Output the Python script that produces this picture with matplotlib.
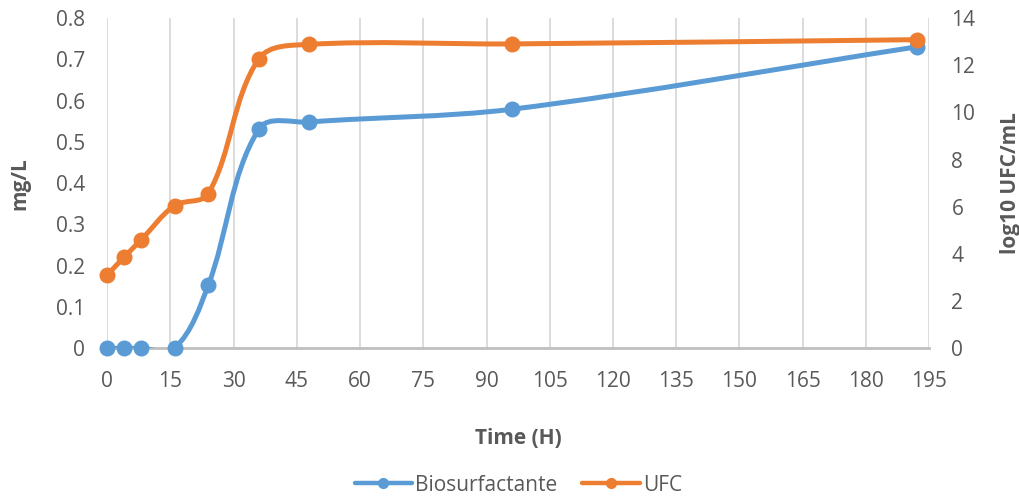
import numpy as np
import matplotlib.pyplot as plt
from matplotlib.path import Path
from matplotlib.patches import PathPatch
from matplotlib.lines import Line2D

plt.rcParams['font.family'] = ['Open Sans', 'DejaVu Sans']

time_h = [0, 4, 8, 16, 24, 36, 48, 96, 192]
biosurf = [0, 0, 0, 0, 0.153, 0.531, 0.548, 0.579, 0.73]
ufc = [3.1, 3.86, 4.58, 6.05, 6.55, 12.27, 12.88, 12.9, 13.08]

blue = '#5B9BD5'
orange = '#ED7D31'
gray_txt = '#595959'
fs = 15

fig = plt.figure(figsize=(10.2, 4.99), dpi=100)
ax = fig.add_axes([0.105, 0.302, 0.806, 0.662])
ax2 = ax.twinx()


def smooth_path(a, x, y):
    # smoothed line like excel: bezier segments, tangents from neighbours,
    # handle length = a third of the segment, worked out in pixel space
    bb = a.get_window_extent()
    x0, x1 = a.get_xlim()
    y0, y1 = a.get_ylim()
    sx = bb.width / (x1 - x0)
    sy = bb.height / (y1 - y0)
    pts = np.column_stack([np.array(x) * sx, np.array(y) * sy]).astype(float)
    n = len(pts)
    tang = []
    for i in range(n):
        t = pts[min(i + 1, n - 1)] - pts[max(i - 1, 0)]
        tang.append(t / np.hypot(*t))
    verts = [pts[0]]
    codes = [Path.MOVETO]
    for i in range(n - 1):
        d = np.hypot(*(pts[i + 1] - pts[i]))
        c1 = pts[i] + tang[i] * d / 3
        c2 = pts[i + 1] - tang[i + 1] * d / 3
        verts += [c1, c2, pts[i + 1]]
        codes += [Path.CURVE4] * 3
    verts = np.array(verts) / [sx, sy]
    return Path(verts, codes)


ax.set_xlim(0, 195)
ax.set_ylim(0, 0.8)
ax2.set_ylim(0, 14)
ax.set_xticks(np.arange(0, 196, 15))
ax.set_yticks(np.arange(0, 0.81, 0.1))
ax.set_yticklabels(['0'] + [f'{v:.1f}' for v in np.arange(0.1, 0.81, 0.1)])
ax2.set_yticks(np.arange(0, 15, 2))

ax.grid(axis='x', color='#D9D9D9', linewidth=1.3)
ax.set_axisbelow(True)
for a in (ax, ax2):
    for s in a.spines.values():
        s.set_visible(False)
    a.tick_params(length=0, labelsize=fs, labelcolor=gray_txt)
ax.spines['bottom'].set_visible(True)
ax.spines['bottom'].set_color('#BFBFBF')
ax.spines['bottom'].set_linewidth(2)
ax.tick_params(axis='x', pad=16)
ax.tick_params(axis='y', pad=16)
ax2.tick_params(axis='y', pad=16)

ax.add_patch(PathPatch(smooth_path(ax, time_h, biosurf), fill=False, edgecolor=blue,
                       linewidth=3.6, capstyle='round', zorder=3))
ax.plot(time_h, biosurf, 'o', color=blue, markersize=10.5, zorder=4, clip_on=False)
ax2.add_patch(PathPatch(smooth_path(ax2, time_h, ufc), fill=False, edgecolor=orange,
                        linewidth=3.6, capstyle='round', zorder=3))
ax2.plot(time_h, ufc, 'o', color=orange, markersize=10.5, zorder=4, clip_on=False)

ax.set_xlabel('Time (H)', fontsize=fs, fontweight='bold', color=gray_txt, labelpad=26)
ax.set_ylabel('mg/L', fontsize=fs, fontweight='bold', color=gray_txt, labelpad=18)
ax2.set_ylabel('log10 UFC/mL', fontsize=fs, fontweight='bold', color=gray_txt, labelpad=18)

handles = [Line2D([], [], color=blue, lw=3.2, marker='o', markersize=7,
                  solid_capstyle='round'),
           Line2D([], [], color=orange, lw=3.2, marker='o', markersize=7,
                  solid_capstyle='round')]
fig.legend(handles, ['Biosurfactante', 'UFC'], loc='center', bbox_to_anchor=(0.508, 0.028),
           ncol=2, frameon=False, fontsize=fs, handlelength=2.75, columnspacing=1.2,
           handletextpad=0.15, labelcolor=gray_txt)

fig.savefig('out.png', dpi=100)
